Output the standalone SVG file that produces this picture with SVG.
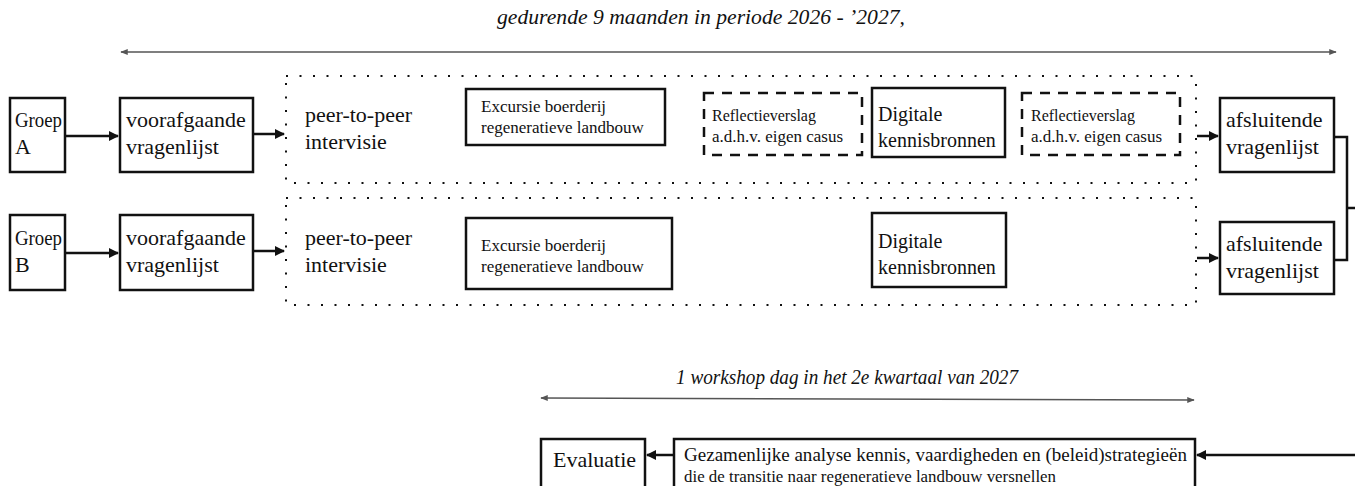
<svg xmlns="http://www.w3.org/2000/svg" width="1355" height="486" viewBox="0 0 1355 486">
<defs>
<style>
.box{fill:#fff;stroke:#111;stroke-width:2.5}
.dash{fill:none;stroke:#111;stroke-width:2.5;stroke-dasharray:10 8}
.dot{fill:none;stroke:#111;stroke-width:2;stroke-dasharray:2 11.5}
.t{font-family:"Liberation Serif","Times New Roman",serif;fill:#111}
.L{font-size:22px}
.G{font-size:21px}
.M{font-size:20px}
.S{font-size:17px}
.Z{font-size:18.5px}
.XS{font-size:16px}
.it{font-family:"Liberation Serif","Times New Roman",serif;font-style:italic;font-size:20px;fill:#111}
.con{fill:none;stroke:#111;stroke-width:2.5}
.span{fill:none;stroke:#555;stroke-width:1.5}
</style>
<marker id="ah" viewBox="0 0 10 10" refX="9" refY="5" markerWidth="4" markerHeight="4" orient="auto-start-reverse" markerUnits="strokeWidth">
<path d="M0,0 L10,5 L0,10 z" fill="#111"/>
</marker>
<marker id="sh" viewBox="0 0 10 10" refX="9" refY="5" markerWidth="6" markerHeight="5" orient="auto-start-reverse" markerUnits="strokeWidth">
<path d="M0,1 L10,5 L0,9 z" fill="#555"/>
</marker>
</defs>
<rect width="1355" height="486" fill="#fff"/>

<g id="timeline-top">
<text class="it" x="497" y="24" textLength="408" lengthAdjust="spacingAndGlyphs">gedurende 9 maanden in periode 2026 - ’2027,</text>
<line class="span" x1="121" y1="52" x2="1336" y2="52" marker-start="url(#sh)" marker-end="url(#sh)"/>
</g>

<g id="frame-a"><rect class="dot" x="286" y="76" width="910" height="107"/></g>
<g id="frame-b"><rect class="dot" x="286" y="198" width="910" height="107"/></g>

<g id="groep-a"><rect class="box" x="10" y="98" width="55" height="74"/>
<text class="t G" x="15" y="127" textLength="47" lengthAdjust="spacingAndGlyphs">Groep</text><text class="t L" x="15" y="154">A</text></g>
<g id="voor-a"><rect class="box" x="120" y="98" width="133" height="74"/>
<text class="t L" x="126" y="127">voorafgaande</text><text class="t L" x="126" y="154">vragenlijst</text></g>
<g id="peer-a"><text class="t L" x="305" y="122">peer-to-peer</text><text class="t L" x="305" y="149">intervisie</text></g>
<g id="excursie-a"><rect class="box" x="466" y="89" width="199" height="56"/>
<text class="t S" x="481" y="112">Excursie boerderij</text><text class="t S" x="481" y="133">regeneratieve landbouw</text></g>
<g id="reflectie-a1"><rect class="dash" x="704" y="93" width="158" height="62"/>
<text class="t XS" x="712" y="121">Reflectieverslag</text><text class="t S" x="712" y="142">a.d.h.v. eigen casus</text></g>
<g id="digitale-a"><rect class="box" x="872" y="88" width="133" height="69"/>
<text class="t M" x="878" y="121">Digitale</text><text class="t M" x="878" y="147">kennisbronnen</text></g>
<g id="reflectie-a2"><rect class="dash" x="1022" y="93" width="158" height="62"/>
<text class="t XS" x="1031" y="121">Reflectieverslag</text><text class="t S" x="1031" y="142">a.d.h.v. eigen casus</text></g>
<g id="afsl-a"><rect class="box" x="1220" y="98" width="114" height="74"/>
<text class="t L" x="1226" y="127">afsluitende</text><text class="t L" x="1226" y="154">vragenlijst</text></g>

<g id="groep-b"><rect class="box" x="10" y="215" width="55" height="75"/>
<text class="t G" x="15" y="245" textLength="47" lengthAdjust="spacingAndGlyphs">Groep</text><text class="t L" x="15" y="272">B</text></g>
<g id="voor-b"><rect class="box" x="120" y="215" width="133" height="75"/>
<text class="t L" x="126" y="245">voorafgaande</text><text class="t L" x="126" y="272">vragenlijst</text></g>
<g id="peer-b"><text class="t L" x="305" y="245">peer-to-peer</text><text class="t L" x="305" y="272">intervisie</text></g>
<g id="excursie-b"><rect class="box" x="466" y="218" width="206" height="71"/>
<text class="t S" x="481" y="251">Excursie boerderij</text><text class="t S" x="481" y="272">regeneratieve landbouw</text></g>
<g id="digitale-b"><rect class="box" x="872" y="213" width="134" height="74"/>
<text class="t M" x="878" y="248">Digitale</text><text class="t M" x="878" y="274">kennisbronnen</text></g>
<g id="afsl-b"><rect class="box" x="1220" y="222" width="114" height="72"/>
<text class="t L" x="1226" y="251">afsluitende</text><text class="t L" x="1226" y="278">vragenlijst</text></g>

<g id="timeline-bottom">
<text class="it" x="676" y="384" textLength="342" lengthAdjust="spacingAndGlyphs">1 workshop dag in het 2e kwartaal van 2027</text>
<line class="span" x1="541" y1="398" x2="1194" y2="400" marker-start="url(#sh)" marker-end="url(#sh)"/>
</g>
<g id="evaluatie"><rect class="box" x="541" y="439" width="104" height="60"/>
<text class="t L" x="553" y="467">Evaluatie</text></g>
<g id="gezamenlijk"><rect class="box" x="674" y="439" width="521" height="60"/>
<text class="t Z" x="684" y="461" textLength="503" lengthAdjust="spacingAndGlyphs">Gezamenlijke analyse kennis, vaardigheden en (beleid)strategieën</text>
<text class="t S" x="684" y="482" textLength="372" lengthAdjust="spacingAndGlyphs">die de transitie naar regeneratieve landbouw versnellen</text></g>

<g id="connectors">
<line class="con" x1="65" y1="136" x2="118" y2="136" marker-end="url(#ah)"/>
<line class="con" x1="253" y1="134" x2="284" y2="134" marker-end="url(#ah)"/>
<line class="con" x1="1197" y1="136" x2="1218" y2="136" marker-end="url(#ah)"/>
<line class="con" x1="65" y1="253" x2="118" y2="253" marker-end="url(#ah)"/>
<line class="con" x1="253" y1="251" x2="284" y2="251" marker-end="url(#ah)"/>
<line class="con" x1="1197" y1="258" x2="1218" y2="258" marker-end="url(#ah)"/>
<path class="con" d="M1334 137 H1347 V260 H1334 M1347 208 H1356"/>
<line class="con" x1="1356" y1="455" x2="1197" y2="455" marker-end="url(#ah)"/>
<line class="con" x1="674" y1="455" x2="647" y2="455" marker-end="url(#ah)"/>
</g>
</svg>
